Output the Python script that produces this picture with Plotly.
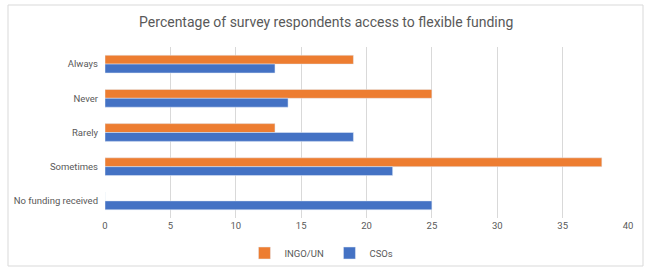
import plotly.graph_objects as go

categories = ["Always", "Never", "Rarely", "Sometimes", "No funding received"]
ingo_un = [19, 25, 13, 38, 0]
csos = [13, 14, 19, 22, 25]
x_ticks = [0, 5, 10, 15, 20, 25, 30, 35, 40]

FONT = "Roboto"

fig = go.Figure()
fig.add_trace(go.Bar(y=categories, x=ingo_un, orientation="h", name="INGO/UN",
                     marker=dict(color="#ED7D31")))
fig.add_trace(go.Bar(y=categories, x=csos, orientation="h", name="CSOs",
                     marker=dict(color="#4472C4")))

W, H = 646, 268
ml, mr, mt, mb = 105, 18, 47, 50
pw, ph = W - ml - mr, H - mt - mb

def px_x(p):
    return (p - ml) / pw

def px_y(p):
    return (H - mb - p) / ph

fig.update_layout(
    width=W, height=H,
    margin=dict(l=ml, r=mr, t=mt, b=mb, autoexpand=False),
    paper_bgcolor="white", plot_bgcolor="white",
    font=dict(family=FONT, color="#595959", size=9.5),
    title=dict(text="Percentage of survey respondents access to flexible funding",
               x=0.505, xanchor="center", xref="container",
               y=1 - 22 / H, yanchor="middle",
               font=dict(size=14, color="#595959", family=FONT)),
    barmode="group", bargap=0.48, bargroupgap=0,
    xaxis=dict(range=[0, 40], tickvals=x_ticks, showgrid=True, gridcolor="#D9D9D9",
               zeroline=False, showline=False, ticks="", automargin=False,
               tickfont=dict(size=9.5, color="#595959")),
    yaxis=dict(autorange="reversed", showgrid=False, ticks="", ticklen=0,
               automargin=False, ticklabelstandoff=6,
               tickfont=dict(size=9.5, color="#595959"), showline=False),
    legend=dict(orientation="h", xref="container", x=0.51, xanchor="center",
                yref="container", y=(H - 253) / H, yanchor="middle",
                font=dict(size=9.5, color="#595959"), bgcolor="rgba(0,0,0,0)",
                entrywidth=40, entrywidthmode="pixels",
                traceorder="normal"),
    shapes=[dict(type="rect", xref="paper", yref="paper",
                 x0=px_x(8), x1=px_x(643), y0=px_y(266), y1=px_y(5),
                 line=dict(color="#D9D9D9", width=1), fillcolor="rgba(0,0,0,0)",
                 layer="below")],
)

fig.write_html("out.html", config={"displayModeBar": False},
               post_script="document.body.style.margin='0';")
